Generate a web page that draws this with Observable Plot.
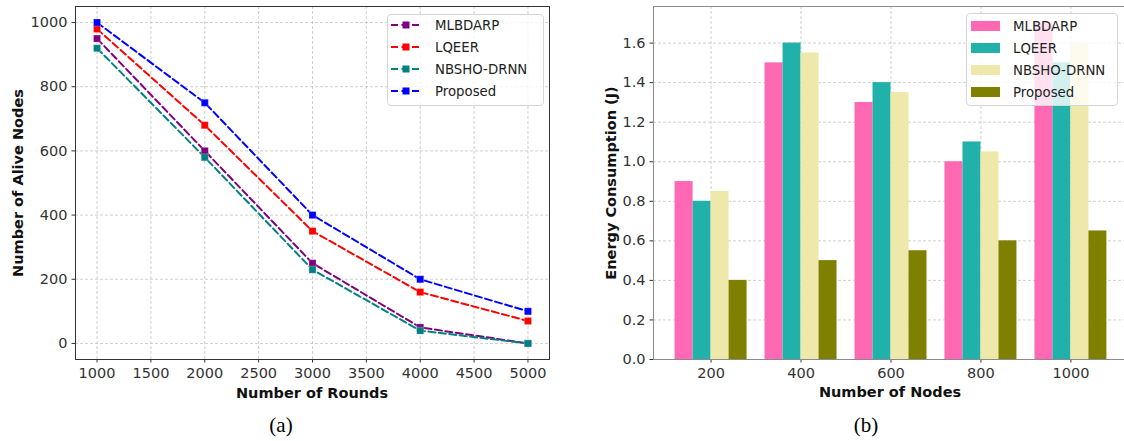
<!DOCTYPE html>
<html>
<head>
<meta charset="utf-8">
<script src="https://cdn.jsdelivr.net/npm/d3@7"></script>
<script src="https://cdn.jsdelivr.net/npm/@observablehq/plot@0.6"></script>
<style>
  html, body { margin: 0; padding: 0; background: #fff; }
  #wrap { position: relative; width: 1124px; height: 441px; overflow: hidden; font-family: "DejaVu Sans", sans-serif; }
  .panel { position: absolute; top: 0; }
  .t { position: absolute; white-space: nowrap; transform: translate(-50%, -50%); }
  .ax { font-weight: bold; font-size: 14.5px; color: #111; }
  .cap { font-family: "Liberation Serif", "DejaVu Serif", serif; font-size: 21px; color: #000; }
  .legend { position: absolute; box-sizing: border-box; border: 1px solid #d6d6d6; border-radius: 4px; background: rgba(255,255,255,0.8); }
  .lrow { position: absolute; left: 0; height: 16px; display: flex; align-items: center; font-size: 13.3px; color: #222; }
</style>
</head>
<body>
<div id="wrap"></div>
<script>
// ---------- Data ----------
const seriesNames = ["MLBDARP", "LQEER", "NBSHO-DRNN", "Proposed"];

// (a) Alive nodes vs rounds
const rounds = [1000, 2000, 3000, 4000, 5000];
const aliveMLBDARP = [950, 600, 250, 50, 0];
const aliveLQEER = [980, 680, 350, 160, 70];
const aliveNBSHO = [920, 580, 230, 40, 0];
const aliveProposed = [1000, 750, 400, 200, 100];
const lineColors = ["#800080", "#ff0000", "#008080", "#0000ff"];
const roundTicks = [1000, 1500, 2000, 2500, 3000, 3500, 4000, 4500, 5000];
const aliveTicks = [0, 200, 400, 600, 800, 1000];

// (b) Energy consumption vs nodes
const nodes = [200, 400, 600, 800, 1000];
const energyMLBDARP = [0.9, 1.5, 1.3, 1.0, 1.7];
const energyLQEER = [0.8, 1.6, 1.4, 1.1, 1.5];
const energyNBSHO = [0.85, 1.55, 1.35, 1.05, 1.6];
const energyProposed = [0.4, 0.5, 0.55, 0.6, 0.65];
const barColors = ["#ff69b4", "#20b2aa", "#eee8aa", "#808000"];
const energyTicks = [0, 0.2, 0.4, 0.6, 0.8, 1.0, 1.2, 1.4, 1.6];

// ---------- Build tables ----------
const aliveSeries = [aliveMLBDARP, aliveLQEER, aliveNBSHO, aliveProposed];
const lineData = [];
seriesNames.forEach((s, k) => rounds.forEach((r, i) => lineData.push({series: s, round: r, alive: aliveSeries[k][i]})));

const energySeries = [energyMLBDARP, energyLQEER, energyNBSHO, energyProposed];
const barWidth = 0.2;
const barData = [];
seriesNames.forEach((s, k) => nodes.forEach((n, i) => {
  const x1 = i - 2 * barWidth + k * barWidth;
  barData.push({series: s, x1, x2: x1 + barWidth, energy: energySeries[k][i]});
}));

const wrap = document.getElementById("wrap");
const gridStyle = {stroke: "#b5b5b5", strokeOpacity: 0.8, strokeDasharray: "3,2", strokeWidth: 0.8};

// ---------- Panel (a) ----------
const plotA = Plot.plot({
  width: 560, height: 405,
  marginLeft: 75, marginRight: 11, marginTop: 6, marginBottom: 46,
  style: {fontFamily: "DejaVu Sans", fontSize: "14.5px", color: "#333", background: "transparent", overflow: "visible"},
  x: {domain: [800, 5200]},
  y: {domain: [-50, 1050]},
  color: {domain: seriesNames, range: lineColors},
  marks: [
    Plot.gridX(roundTicks, gridStyle),
    Plot.gridY(aliveTicks, gridStyle),
    Plot.line(lineData, {x: "round", y: "alive", z: "series", stroke: "series", strokeWidth: 2, strokeDasharray: "7,3.5"}),
    Plot.dot(lineData, {x: "round", y: "alive", fill: "series", symbol: "square", r: 4, stroke: "white", strokeWidth: 0.4, strokeOpacity: 0.6}),
    Plot.axisX({ticks: roundTicks, tickFormat: d => String(d), tickSize: 3.5, tickPadding: 4.5, label: null, fontSize: 14.5}),
    Plot.axisY({ticks: aliveTicks, tickFormat: d => String(d), tickSize: 3.5, tickPadding: 4.5, label: null, fontSize: 14.5}),
    Plot.frame({stroke: "#333", strokeWidth: 1})
  ]
});
plotA.classList.add("panel");
plotA.style.left = "0px";
wrap.appendChild(plotA);

// ---------- Panel (b) ----------
const plotB = Plot.plot({
  width: 570, height: 405,
  marginLeft: 93, marginRight: 2, marginTop: 6, marginBottom: 46,
  style: {fontFamily: "DejaVu Sans", fontSize: "14.5px", color: "#333", background: "transparent", overflow: "visible"},
  x: {domain: [-0.64, 4.64]},
  y: {domain: [0, 1.785]},
  color: {domain: seriesNames, range: barColors},
  marks: [
    Plot.gridX(nodes.map((d, i) => i), gridStyle),
    Plot.gridY(energyTicks, gridStyle),
    Plot.rectY(barData, {x1: "x1", x2: "x2", y1: 0, y2: "energy", fill: "series"}),
    Plot.axisX({ticks: nodes.map((d, i) => i), tickFormat: i => String(nodes[i]), tickSize: 3.5, tickPadding: 4.5, label: null, fontSize: 14.5}),
    Plot.axisY({ticks: energyTicks, tickFormat: d => d.toFixed(1), tickSize: 3.5, tickPadding: 4.5, label: null, fontSize: 14.5}),
    Plot.frame({stroke: "#8a8a8a", strokeWidth: 1})
  ]
});
plotB.classList.add("panel");
plotB.style.left = "560px";
wrap.appendChild(plotB);

// ---------- Text ----------
function addText(txt, cls, x, y, rotate) {
  const d = document.createElement("div");
  d.className = "t " + cls;
  d.textContent = txt;
  d.style.left = x + "px";
  d.style.top = y + "px";
  if (rotate) d.style.transform = "translate(-50%, -50%) rotate(-90deg)";
  wrap.appendChild(d);
}
addText("Number of Rounds", "ax", 312, 393);
addText("Number of Alive Nodes", "ax", 18, 183, true);
addText("Number of Nodes", "ax", 890, 392);
addText("Energy Consumption (J)", "ax", 611, 183, true);
addText("(a)", "cap", 281, 425);
addText("(b)", "cap", 866, 425);

// ---------- Legends ----------
function legendA() {
  const box = document.createElement("div");
  box.className = "legend";
  Object.assign(box.style, {left: "387px", top: "14px", width: "157px", height: "92px"});
  seriesNames.forEach((s, k) => {
    const row = document.createElement("div");
    row.className = "lrow";
    row.style.top = (2 + 22 * k) + "px";
    const sw = `<svg width="30" height="12" style="margin-left:3px;margin-right:14px"><line x1="0" y1="6" x2="30" y2="6" stroke="${lineColors[k]}" stroke-width="2" stroke-dasharray="7,3.5"/><rect x="11.5" y="2.5" width="7" height="7" fill="${lineColors[k]}"/></svg>`;
    row.innerHTML = sw + "<span>" + s + "</span>";
    box.appendChild(row);
  });
  wrap.appendChild(box);
}
function legendB() {
  const box = document.createElement("div");
  box.className = "legend";
  Object.assign(box.style, {left: "966px", top: "13px", width: "152px", height: "93px"});
  seriesNames.forEach((s, k) => {
    const row = document.createElement("div");
    row.className = "lrow";
    row.style.top = (4 + 22 * k) + "px";
    row.innerHTML = `<div style="width:29px;height:10px;background:${barColors[k]};margin-left:4px;margin-right:13px"></div><span>${s}</span>`;
    box.appendChild(row);
  });
  wrap.appendChild(box);
}
legendA();
legendB();
</script>
</body>
</html>
